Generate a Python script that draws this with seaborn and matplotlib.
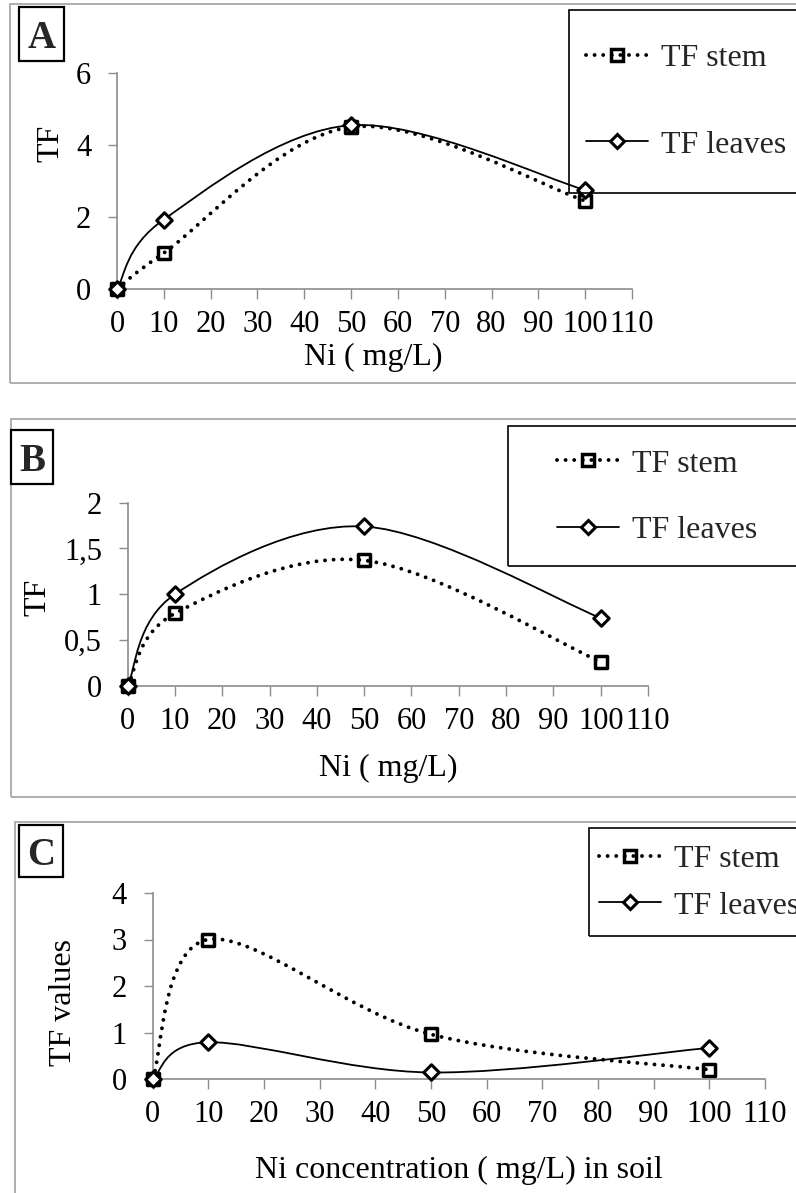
import numpy as np
import matplotlib
matplotlib.use("Agg")
import matplotlib.pyplot as plt
from matplotlib.path import Path
from matplotlib.patches import PathPatch, Rectangle
from matplotlib.lines import Line2D
import seaborn as sns

# ---- data -------------------------------------------------------------
ni_conc = [0, 10, 50, 100]

a_stem = [0.0, 1.0, 4.5, 2.45]
a_leaves = [0.0, 1.93, 4.55, 2.75]

b_stem = [0.0, 0.79, 1.37, 0.26]
b_leaves = [0.0, 1.0, 1.74, 0.74]

c_stem = [0.0, 3.0, 0.96, 0.2]
c_leaves = [0.0, 0.79, 0.14, 0.67]

x_ticks = list(range(0, 111, 10))
a_yticks = [0, 2, 4, 6]
b_yticks = [0, 0.5, 1, 1.5, 2]
b_yticklabels = ["0", "0,5", "1", "1,5", "2"]
c_yticks = [0, 1, 2, 3, 4]

series_labels = ["TF stem", "TF leaves"]
panel_letters = ["A", "B", "C"]
x_labels = ["Ni ( mg/L)", "Ni ( mg/L)", "Ni concentration ( mg/L) in soil"]
y_labels = ["TF", "TF", "TF values"]

# ---- style ------------------------------------------------------------
sns.set_theme(style="white")
plt.rcParams["font.family"] = ["Liberation Serif", "DejaVu Serif"]
plt.rcParams["lines.scale_dashes"] = True

W, H = 796, 1193
fig = plt.figure(figsize=(W / 100, H / 100), dpi=100)
fig.patch.set_facecolor("white")


def fx(px):
    return px / W


def fy(py):
    return 1 - py / H


def smooth_path(xs, ys):
    """Cubic Bezier path through the points (Excel-style smoothed line)."""
    pts = np.column_stack([xs, ys]).astype(float)
    n = len(pts)
    verts = [pts[0]]
    codes = [Path.MOVETO]
    for i in range(n - 1):
        p0 = pts[max(i - 1, 0)]
        p1 = pts[i]
        p2 = pts[i + 1]
        p3 = pts[min(i + 2, n - 1)]
        c1 = p1 + (p2 - p0) / 6.0
        c2 = p2 - (p3 - p1) / 6.0
        verts += [c1, c2, p2]
        codes += [Path.CURVE4] * 3
    return Path(np.array(verts), codes)


SPINE = "#8c8c8c"
FRAME = "#a8a8a8"
TICK_FS = 22
LABEL_FS = 23
LEGEND_FS = 23

panels = [
    dict(
        stem=a_stem, leaves=a_leaves, yticks=a_yticks, yticklabels=None,
        ylim=(0, 6), ax_px=(117, 632, 73, 289), frame=(10, 4, 383),
        letter_box=(19, 7, 64, 61), legend_box=(569, 10, 193),
        legend_anchor=(586, 101.5), labelspacing=1.8,
        xlabel_pos=(0.497, -0.319), ylabel_pos=(-0.128, 0.676),
    ),
    dict(
        stem=b_stem, leaves=b_leaves, yticks=b_yticks, yticklabels=b_yticklabels,
        ylim=(0, 2), ax_px=(127.7, 648, 502.7, 685.7), frame=(11, 419, 797),
        letter_box=(11, 430, 53, 484), legend_box=(508, 426, 566),
        legend_anchor=(557, 497), labelspacing=1.15,
        xlabel_pos=(0.5, -0.45), ylabel_pos=(-0.172, 0.485),
    ),
    dict(
        stem=c_stem, leaves=c_leaves, yticks=c_yticks, yticklabels=None,
        ylim=(0, 4), ax_px=(152.7, 765, 893, 1079), frame=(15, 822, 1210),
        letter_box=(19, 825, 63, 877), legend_box=(589, 828, 936),
        legend_anchor=(599, 882.5), labelspacing=0.55,
        xlabel_pos=(0.5, -0.489), ylabel_pos=(-0.146, 0.41),
    ),
]

for k, p in enumerate(panels):
    # panel frame (runs off the right edge)
    fl, ft, fb = p["frame"]
    fig.add_artist(Rectangle((fx(fl), fy(fb)), 1.2, (fb - ft) / H,
                             transform=fig.transFigure, fill=False,
                             edgecolor=FRAME, linewidth=1.3))

    x0, x1, y0, y1 = p["ax_px"]
    ax = fig.add_axes([fx(x0), fy(y1), (x1 - x0) / W, (y1 - y0) / H])
    ax.set_facecolor("none")
    ax.set_xlim(0, 110)
    ax.set_ylim(*p["ylim"])

    # smoothed curves
    stem_patch = PathPatch(smooth_path(ni_conc, p["stem"]), fill=False,
                           edgecolor="black", linewidth=2.8,
                           linestyle=(0, (0.01, 2.2)), capstyle="round",
                           zorder=3, clip_on=False)
    ax.add_patch(stem_patch)
    leaves_patch = PathPatch(smooth_path(ni_conc, p["leaves"]), fill=False,
                             edgecolor="black", linewidth=1.3, zorder=3,
                             clip_on=False)
    ax.add_patch(leaves_patch)

    # markers
    sns.scatterplot(x=ni_conc, y=p["stem"], marker="s", s=72,
                    color="white", edgecolor="black", linewidth=2.5,
                    zorder=2, clip_on=False, ax=ax, legend=False)
    sns.scatterplot(x=ni_conc, y=p["leaves"], marker="D", s=62,
                    color="white", edgecolor="black", linewidth=2.2,
                    zorder=4, clip_on=False, ax=ax, legend=False)

    # axes styling
    for side in ("top", "right"):
        ax.spines[side].set_visible(False)
    for side in ("left", "bottom"):
        ax.spines[side].set_color(SPINE)
        ax.spines[side].set_linewidth(1.2)
    ax.set_xticks(x_ticks)
    ax.set_yticks(p["yticks"])
    if p["yticklabels"] is not None:
        ax.set_yticklabels(p["yticklabels"])
    ax.tick_params(axis="x", direction="out", length=7.2, width=1.0,
                   color=SPINE, pad=8, labelsize=TICK_FS, labelcolor="black",
                   bottom=True)
    ax.tick_params(axis="y", direction="out", length=6.5, width=1.0,
                   color=SPINE, pad=12, labelsize=TICK_FS, labelcolor="black",
                   left=True)

    ax.set_xlabel(x_labels[k], fontsize=LABEL_FS, color="black")
    ax.xaxis.label.set_va("center")
    ax.xaxis.set_label_coords(*p["xlabel_pos"])
    ax.set_ylabel(y_labels[k], fontsize=LABEL_FS, color="black")
    ax.yaxis.label.set_va("center")
    ax.yaxis.set_label_coords(*p["ylabel_pos"])

    # panel letter in a box
    lx0, ly0, lx1, ly1 = p["letter_box"]
    fig.add_artist(Rectangle((fx(lx0), fy(ly1)), (lx1 - lx0) / W,
                             (ly1 - ly0) / H, transform=fig.transFigure,
                             fill=False, edgecolor="black", linewidth=1.6))
    fig.text(fx((lx0 + lx1) / 2), fy((ly0 + ly1) / 2), panel_letters[k],
             fontsize=28, fontweight="bold", ha="center", va="center_baseline")

    # legend box (runs off the right edge)
    bl, bt, bb = p["legend_box"]
    fig.add_artist(Rectangle((fx(bl), fy(bb)), 1.2, (bb - bt) / H,
                             transform=fig.transFigure, fill=False,
                             edgecolor="black", linewidth=1.2, zorder=5))
    handles = [
        Line2D([], [], color="black", linewidth=2.8,
               linestyle=(0, (0.01, 2.2)), dash_capstyle="round",
               marker="s", markersize=8.5, markerfacecolor="none",
               markeredgecolor="black", markeredgewidth=2.5),
        Line2D([], [], color="black", linewidth=1.3, marker="D",
               markersize=7.6, markerfacecolor="white",
               markeredgecolor="black", markeredgewidth=2.2),
    ]
    hx, hy = p["legend_anchor"]
    fig.legend(handles, series_labels, loc="center left",
               bbox_to_anchor=(fx(hx), fy(hy)), bbox_transform=fig.transFigure,
               frameon=False, fontsize=LEGEND_FS, borderpad=0, borderaxespad=0,
               handlelength=1.95, handletextpad=0.4,
               labelspacing=p["labelspacing"], numpoints=1)

fig.savefig("out.png", dpi=100, facecolor="white")
